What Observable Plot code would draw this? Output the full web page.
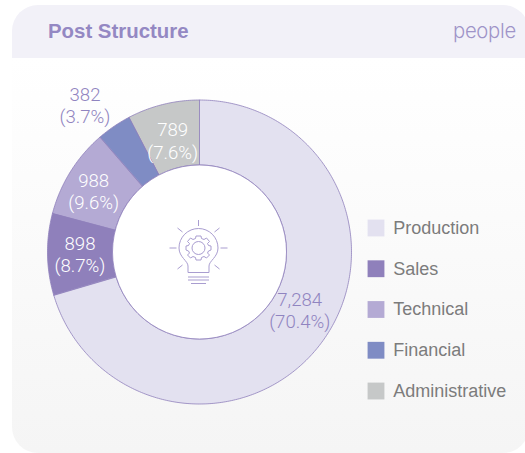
<!DOCTYPE html>
<html><head><meta charset="utf-8">
<script src="https://cdn.jsdelivr.net/npm/d3@7"></script>
<script src="https://cdn.jsdelivr.net/npm/@observablehq/plot@0.6"></script>
<style>
html,body{margin:0;padding:0;background:#fff;}
#page{position:relative;width:525px;height:453px;overflow:hidden;}
#card{position:absolute;left:12px;top:5px;width:517px;height:448px;border-radius:26px;overflow:hidden;background:linear-gradient(#fff 53px,#f5f5f5 100%);}
#head{position:absolute;left:0;top:0;right:0;height:53px;background:#f2f1f8;}
#title{position:absolute;left:36px;top:13px;font:700 20.4px/26px "Liberation Sans",sans-serif;color:#9488c3;}
#unit{position:absolute;left:441px;top:13px;font:300 20.3px/26px Inter,"Liberation Sans",sans-serif;letter-spacing:-0.3px;color:#9f94c8;}
#chart{position:absolute;left:0;top:0;}
#icon{position:absolute;left:0;top:0;}
</style></head><body>
<div id="page">
<div id="card"><div id="head"><div id="title">Post Structure</div><div id="unit">people</div></div></div>
<div id="chart"></div>
<svg id="icon" width="525" height="453" fill="none" stroke="#a99dd0" stroke-width="1">
<g transform="translate(198.5,248)">
<path d="M-10.5 24.5V18C-10.5 13 -19.5 9 -19.5 0A19.5 19.5 0 0 1 19.5 0C19.5 9 10.5 13 10.5 18V24.5Z"/>
<path d="M-10.5 29H10.5M-10.5 32H10.5M-7.5 35.5H7.5"/>
<path d="M0 -28V-22M-21 -20L-16 -16M21 -20L16 -16M-29 0H-22M29 0H22M-21 21L-16 17M21 21L16 17"/>
<circle cx="0" cy="0" r="6.5"/>
<path d="M-2.5 -12H2.5L3 -9.5L5.5 -8.5L8 -10L11 -6.5L9 -4.5L10 -2.5L12.5 -2V2L10 3L9 5L11 7L8 10L5.5 8.5L3 9.5L2.5 12H-2.5L-3 9.5L-5.5 8.5L-8 10L-11 7L-9 5L-10 3L-12.5 2V-2L-10 -2.5L-9 -4.5L-11 -6.5L-8 -10L-5.5 -8.5L-3 -9.5Z"/>
</g></svg>
</div>
<script>
const categories = ["Production","Sales","Technical","Financial","Administrative"];
const people = [7284, 898, 988, 382, 789];
const shares = ["70.4%","8.7%","9.6%","3.7%","7.6%"];
const displayed = ["7,284","898","988","382","789"];
const colors = ["#e3e1f0","#8f80bb","#b4aad4","#7f8cc4","#c6c8c8"];
const labelColors = ["#9084c0","#ffffff","#ffffff","#9084c0","#ffffff"];

const total = d3.sum(people);
const cum = d3.cumsum(people);
const R = 152, r = 87, W = 525, H = 453, cx = 199, cy = 251.5;
const polar = (a, rad) => [rad * Math.sin(a), rad * Math.cos(a)];
const angle = v => 2 * Math.PI * v / total;

// ring polygons derived from the values
const ring = categories.flatMap((c, i) => {
  const a0 = angle(i ? cum[i-1] : 0), a1 = angle(cum[i]);
  const n = Math.max(2, Math.ceil((a1 - a0) * R / 2));
  const ts = d3.range(n + 1).map(k => a0 + (a1 - a0) * k / n);
  return [...ts.map(t => polar(t, R)), ...ts.reverse().map(t => polar(t, r))]
    .map(([x, y]) => ({c, x, y}));
});
const slices = categories.map((c, i) => {
  const m = angle((i ? cum[i-1] : 0) + people[i] / 2);
  const [x, y] = polar(m, (R + r) / 2);
  return {c, x, y, label: displayed[i] + "\n(" + shares[i] + ")", fill: labelColors[i]};
});
const nudge = {Production:[4.5,-13.5],Sales:[0,0.5],Technical:[-4.5,2.5],Financial:[-47.5,-48.5],Administrative:[1.5,4.5]};
const textMarks = slices.map(s => Plot.text([s], {
  x: "x", y: "y", text: "label", fill: "fill", fontSize: 18.6, lineHeight: 1.19,
  fontFamily: "Roboto", fontWeight: 300, dx: nudge[s.c][0], dy: nudge[s.c][1]
}));

const chart = Plot.plot({
  width: W, height: H, margin: 0,
  x: {domain: [-cx, W - cx], range: [0, W], axis: null},
  y: {domain: [cy - H, cy], range: [H, 0], axis: null},
  color: {domain: categories, range: colors},
  style: {background: "transparent"},
  marks: [
    Plot.line(ring, {x: "x", y: "y", z: "c", fill: "c", stroke: "#8f80bb", strokeWidth: 0.8, curve: "linear-closed"}),
    Plot.dot([0], {x: () => 0, y: () => 0, r, fill: "white", stroke: "#8f80bb", strokeWidth: 0.8}),
    ...textMarks,
  ]
});
document.getElementById("chart").appendChild(chart);

const legend = Plot.plot({
  width: W, height: H, margin: 0,
  x: {domain: [0, W], range: [0, W], axis: null},
  y: {domain: [0, categories.length], range: [207.1, 410.9], axis: null},
  color: {domain: categories, range: colors},
  style: {background: "transparent", position: "absolute", left: 0, top: 0},
  marks: [
    Plot.dot(categories, {x: () => 375.5, y: (d, i) => i + 0.5, symbol: "square", r: 9.5, fill: d => d}),
    Plot.text(categories, {x: () => 392.7, y: (d, i) => i + 0.5, text: d => d, textAnchor: "start", fontSize: 18, fontFamily: "Liberation Sans", fill: "#7c7c7c"})
  ]
});
document.getElementById("chart").appendChild(legend);
</script>
</body></html>
